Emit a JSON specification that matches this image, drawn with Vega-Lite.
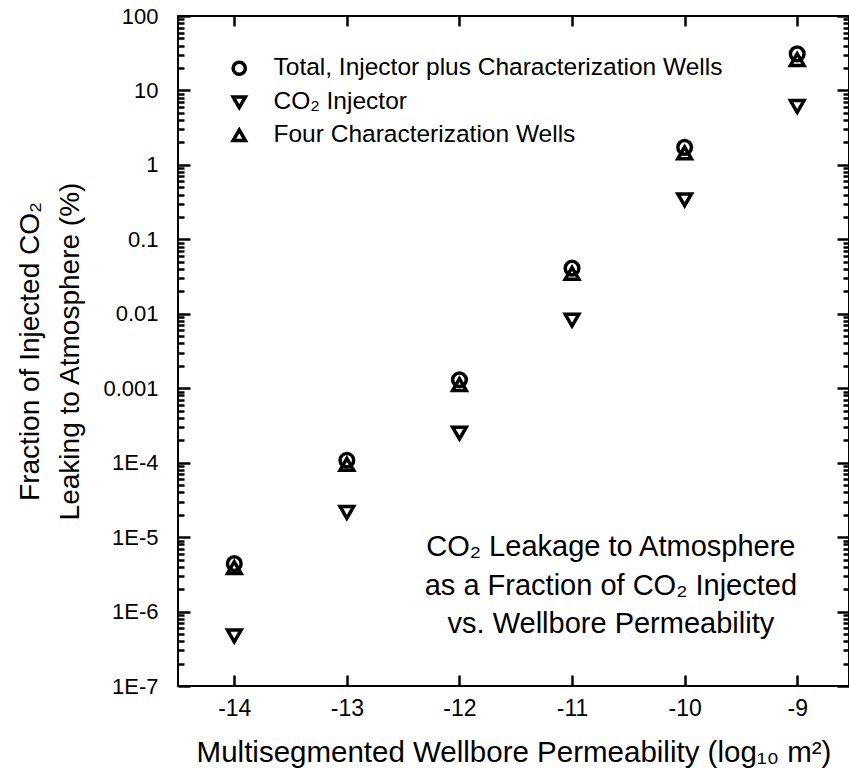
{
  "$schema": "https://vega.github.io/schema/vega-lite/v6.json",
  "autosize": {"type": "none"},
  "padding": {"left": 178, "top": 16, "right": 0, "bottom": 85},
  "width": 671,
  "height": 670,
  "background": "white",
  "config": {
    "font": "Liberation Sans",
    "view": {"stroke": "black", "strokeWidth": 2},
    "axis": {
      "grid": false,
      "domain": false,
      "labelColor": "black",
      "titleColor": "black",
      "tickColor": "black",
      "tickWidth": 2.5,
      "titleFontWeight": "normal",
      "labelFont": "Liberation Sans",
      "titleFont": "Liberation Sans"
    }
  },
  "data": {
    "values": [
      {"k": -14, "series": "Total, Injector plus Characterization Wells", "v": 4.4e-6},
      {"k": -13, "series": "Total, Injector plus Characterization Wells", "v": 1.08e-4},
      {"k": -12, "series": "Total, Injector plus Characterization Wells", "v": 1.3e-3},
      {"k": -11, "series": "Total, Injector plus Characterization Wells", "v": 0.041},
      {"k": -10, "series": "Total, Injector plus Characterization Wells", "v": 1.72},
      {"k": -9, "series": "Total, Injector plus Characterization Wells", "v": 31},
      {"k": -14, "series": "CO₂ Injector", "v": 4.7e-7},
      {"k": -13, "series": "CO₂ Injector", "v": 2.15e-5},
      {"k": -12, "series": "CO₂ Injector", "v": 2.5e-4},
      {"k": -11, "series": "CO₂ Injector", "v": 0.0082},
      {"k": -10, "series": "CO₂ Injector", "v": 0.34},
      {"k": -9, "series": "CO₂ Injector", "v": 6.1},
      {"k": -14, "series": "Four Characterization Wells", "v": 3.9e-6},
      {"k": -13, "series": "Four Characterization Wells", "v": 9.5e-5},
      {"k": -12, "series": "Four Characterization Wells", "v": 1.12e-3},
      {"k": -11, "series": "Four Characterization Wells", "v": 0.035},
      {"k": -10, "series": "Four Characterization Wells", "v": 1.45},
      {"k": -9, "series": "Four Characterization Wells", "v": 26}
    ]
  },
  "layer": [
    {
      "mark": {"type": "point", "filled": false, "strokeWidth": 3.5, "size": 185, "color": "black", "opacity": 1},
      "encoding": {
        "x": {
          "field": "k", "type": "quantitative",
          "scale": {"domain": [-14.5, -8.54], "nice": false, "zero": false},
          "axis": {
            "orient": "bottom",
            "values": [-14, -13, -12, -11, -10, -9],
            "ticks": false,
            "labelPadding": 11,
            "labelFontSize": 23,
            "labelExpr": "'' + datum.value",
            "title": "Multisegmented Wellbore Permeability (log₁₀ m²)",
            "titleFontSize": 29.5,
            "titlePadding": 18
          }
        },
        "y": {
          "field": "v", "type": "quantitative",
          "scale": {"type": "log", "domain": [1e-7, 100], "nice": false},
          "axis": {
            "orient": "left",
            "values": [1e-7, 1e-6, 1e-5, 1e-4, 0.001, 0.01, 0.1, 1, 10, 100],
            "ticks": false,
            "labelPadding": 20,
            "labelFontSize": 22,
            "labelExpr": "datum.value >= 0.001 ? format(datum.value, '~g') : '1E' + round(log(datum.value) / LN10)",
            "title": ["Fraction of Injected CO₂", "Leaking to Atmosphere (%)"],
            "titleFontSize": 28,
            "titleLineHeight": 40,
            "titlePadding": 18
          }
        },
        "shape": {
          "field": "series", "type": "nominal",
          "scale": {
            "domain": ["Total, Injector plus Characterization Wells", "CO₂ Injector", "Four Characterization Wells"],
            "range": ["circle", "triangle-down", "triangle-up"]
          },
          "legend": {
            "orient": "none",
            "legendX": 49,
            "legendY": 40,
            "title": null,
            "padding": 0,
            "labelFontSize": 24.5,
            "labelColor": "black",
            "labelFont": "Liberation Sans",
            "labelLimit": 600,
            "labelOffset": 22,
            "rowPadding": 7,
            "symbolSize": 150,
            "symbolStrokeWidth": 3.5,
            "symbolStrokeColor": "black",
            "symbolFillColor": "transparent"
          }
        }
      }
    },
    {
      "mark": {"type": "point", "opacity": 0},
      "encoding": {
        "x": {
          "field": "k", "type": "quantitative",
          "axis": {"orient": "bottom", "tickSize": -11, "labels": false, "title": null,
                   "values": [-14, -13, -12, -11, -10, -9]}
        },
        "y": {
          "field": "v", "type": "quantitative",
          "axis": {"orient": "left", "tickSize": -12, "labels": false, "title": null,
                   "values": [1e-7, 1e-6, 1e-5, 1e-4, 0.001, 0.01, 0.1, 1, 10, 100]}
        }
      }
    },
    {
      "mark": {"type": "point", "opacity": 0},
      "encoding": {
        "x": {
          "field": "k", "type": "quantitative",
          "axis": {"orient": "top", "tickSize": -10, "labels": false, "title": null,
                   "values": [-14, -13, -12, -11, -10, -9]}
        },
        "y": {
          "field": "v", "type": "quantitative",
          "axis": {
            "orient": "left", "tickSize": -6, "labels": false, "title": null,
            "values": [2e-7, 3e-7, 4e-7, 5e-7, 6e-7, 7e-7, 8e-7, 9e-7,
                       2e-6, 3e-6, 4e-6, 5e-6, 6e-6, 7e-6, 8e-6, 9e-6,
                       2e-5, 3e-5, 4e-5, 5e-5, 6e-5, 7e-5, 8e-5, 9e-5,
                       0.0002, 0.0003, 0.0004, 0.0005, 0.0006, 0.0007, 0.0008, 0.0009,
                       0.002, 0.003, 0.004, 0.005, 0.006, 0.007, 0.008, 0.009,
                       0.02, 0.03, 0.04, 0.05, 0.06, 0.07, 0.08, 0.09,
                       0.2, 0.3, 0.4, 0.5, 0.6, 0.7, 0.8, 0.9,
                       2, 3, 4, 5, 6, 7, 8, 9,
                       20, 30, 40, 50, 60, 70, 80, 90]
          }
        }
      }
    },
    {
      "mark": {"type": "point", "opacity": 0},
      "encoding": {
        "x": {"field": "k", "type": "quantitative", "axis": null},
        "y": {
          "field": "v", "type": "quantitative",
          "axis": {"orient": "right", "tickSize": -12, "labels": false, "title": null,
                   "values": [1e-7, 1e-6, 1e-5, 1e-4, 0.001, 0.01, 0.1, 1, 10, 100]}
        }
      }
    },
    {
      "mark": {"type": "point", "opacity": 0},
      "encoding": {
        "x": {"field": "k", "type": "quantitative", "axis": null},
        "y": {
          "field": "v", "type": "quantitative",
          "axis": {
            "orient": "right", "tickSize": -6, "labels": false, "title": null,
            "values": [2e-7, 3e-7, 4e-7, 5e-7, 6e-7, 7e-7, 8e-7, 9e-7,
                       2e-6, 3e-6, 4e-6, 5e-6, 6e-6, 7e-6, 8e-6, 9e-6,
                       2e-5, 3e-5, 4e-5, 5e-5, 6e-5, 7e-5, 8e-5, 9e-5,
                       0.0002, 0.0003, 0.0004, 0.0005, 0.0006, 0.0007, 0.0008, 0.0009,
                       0.002, 0.003, 0.004, 0.005, 0.006, 0.007, 0.008, 0.009,
                       0.02, 0.03, 0.04, 0.05, 0.06, 0.07, 0.08, 0.09,
                       0.2, 0.3, 0.4, 0.5, 0.6, 0.7, 0.8, 0.9,
                       2, 3, 4, 5, 6, 7, 8, 9,
                       20, 30, 40, 50, 60, 70, 80, 90]
          }
        }
      }
    },
    {
      "data": {"values": [{"note": "annotation"}]},
      "mark": {
        "type": "text",
        "text": ["CO₂ Leakage to Atmosphere", "as a Fraction of CO₂ Injected", "vs. Wellbore Permeability"],
        "align": "center",
        "baseline": "alphabetic",
        "fontSize": 29,
        "lineHeight": 38.5,
        "color": "black",
        "font": "Liberation Sans"
      },
      "encoding": {
        "x": {"datum": -10.655, "type": "quantitative", "axis": null},
        "y": {"datum": 5.57e-6, "type": "quantitative", "axis": null}
      }
    }
  ],
  "resolve": {"axis": {"x": "independent", "y": "independent"}}
}
